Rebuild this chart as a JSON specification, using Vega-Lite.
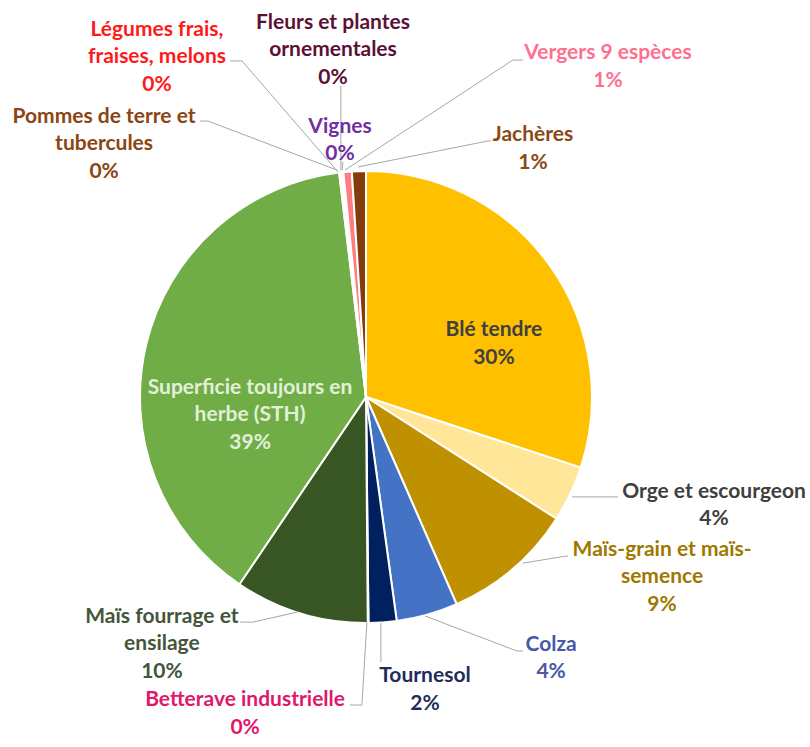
{
  "$schema": "https://vega.github.io/schema/vega-lite/v6.json",
  "width": 732,
  "height": 700,
  "autosize": "none",
  "padding": {"left": 0, "top": 47, "right": 78, "bottom": 0},
  "background": "white",
  "config": {
    "view": {"stroke": null},
    "axis": {"disable": true},
    "text": {"font": "Lato", "fontWeight": "bold", "fontSize": 21, "lineHeight": 27.5, "lineBreak": "\n", "align": "center", "baseline": "middle"},
    "rule": {"color": "#A6A6A6", "strokeWidth": 1}
  },
  "data": {
    "values": [
      {"name": "Blé tendre", "label": "Blé tendre", "value": 30.1},
      {"name": "Orge et escourgeon", "label": "Orge et escourgeon", "value": 4.0},
      {"name": "Maïs-grain et maïs-semence", "label": "Maïs-grain et maïs-\nsemence", "value": 9.4},
      {"name": "Colza", "label": "Colza", "value": 4.4},
      {"name": "Tournesol", "label": "Tournesol", "value": 2.0},
      {"name": "Betterave industrielle", "label": "Betterave industrielle", "value": 0.05},
      {"name": "Maïs fourrage et ensilage", "label": "Maïs fourrage et\nensilage", "value": 9.6},
      {"name": "Superficie toujours en herbe (STH)", "label": "Superficie toujours en\nherbe (STH)", "value": 38.7},
      {"name": "Pommes de terre et tubercules", "label": "Pommes de terre et\ntubercules", "value": 0.1},
      {"name": "Légumes frais, fraises, melons", "label": "Légumes frais,\nfraises, melons", "value": 0.1},
      {"name": "Fleurs et plantes ornementales", "label": "Fleurs et plantes\nornementales", "value": 0.05},
      {"name": "Vignes", "label": "Vignes", "value": 0.05},
      {"name": "Vergers 9 espèces", "label": "Vergers 9 espèces", "value": 0.6},
      {"name": "Jachères", "label": "Jachères", "value": 1.0}
    ]
  },
  "transform": [
    {"window": [{"op": "row_number", "as": "idx"}]},
    {"calculate": "datum.label + '\\n' + format(datum.value / 100, '.0%')", "as": "txt"}
  ],
  "layer": [
    {
      "mark": {"type": "arc", "radius": 226, "stroke": "white", "strokeWidth": 2},
      "encoding": {
        "theta": {"field": "value", "type": "quantitative", "stack": true},
        "order": {"field": "idx", "type": "quantitative"},
        "color": {
          "field": "name", "type": "nominal", "legend": null,
          "scale": {
            "domain": ["Blé tendre", "Orge et escourgeon", "Maïs-grain et maïs-semence", "Colza", "Tournesol", "Betterave industrielle", "Maïs fourrage et ensilage", "Superficie toujours en herbe (STH)", "Pommes de terre et tubercules", "Légumes frais, fraises, melons", "Fleurs et plantes ornementales", "Vignes", "Vergers 9 espèces", "Jachères"],
            "range": ["#FFC000", "#FFE699", "#BF9000", "#4472C4", "#002060", "#E6007E", "#375623", "#70AD47", "#843C0C", "#FF0000", "#5C1040", "#7030A0", "#FF7C80", "#843C0C"]
          }
        }
      }
    },
    {
      "transform": [{"filter": "datum.name === 'Blé tendre'"}],
      "mark": {"type": "text", "color": "#404040"},
      "encoding": {
        "x": {"datum": 0.566, "type": "quantitative", "axis": null, "scale": {"domain": [-1.6195, 1.6195], "nice": false, "zero": false}},
        "y": {"datum": 0.296, "type": "quantitative", "axis": null, "scale": {"domain": [-1.5487, 1.5487], "nice": false, "zero": false}},
        "text": {"field": "txt"}
      }
    },
    {
      "transform": [{"filter": "datum.name === 'Superficie toujours en herbe (STH)'"}],
      "mark": {"type": "text", "color": "#E2F0D9"},
      "encoding": {
        "x": {"datum": -0.513, "type": "quantitative", "axis": null, "scale": {"domain": [-1.6195, 1.6195], "nice": false, "zero": false}},
        "y": {"datum": 0.040, "type": "quantitative", "axis": null, "scale": {"domain": [-1.5487, 1.5487], "nice": false, "zero": false}},
        "text": {"field": "txt"}
      }
    },
    {
      "transform": [{"filter": "datum.name === 'Orge et escourgeon'"}],
      "layer": [
        {"mark": {"type": "rule"}, "encoding": {"x": {"datum": 0.912, "type": "quantitative", "axis": null}, "y": {"datum": -0.442, "type": "quantitative", "axis": null}, "x2": {"datum": 1.115}, "y2": {"datum": -0.442}}},
        {"mark": {"type": "text", "color": "#404040"}, "encoding": {"x": {"datum": 1.540, "type": "quantitative", "axis": null}, "y": {"datum": -0.420, "type": "quantitative", "axis": null}, "text": {"field": "txt"}}}
      ]
    },
    {
      "transform": [{"filter": "datum.name === 'Maïs-grain et maïs-semence'"}],
      "layer": [
        {"mark": {"type": "rule"}, "encoding": {"x": {"datum": 0.695, "type": "quantitative", "axis": null}, "y": {"datum": -0.735, "type": "quantitative", "axis": null}, "x2": {"datum": 0.885}, "y2": {"datum": -0.704}}},
        {"mark": {"type": "rule"}, "encoding": {"x": {"datum": 0.885, "type": "quantitative", "axis": null}, "y": {"datum": -0.704, "type": "quantitative", "axis": null}, "x2": {"datum": 0.894}, "y2": {"datum": -0.704}}},
        {"mark": {"type": "text", "color": "#A07800"}, "encoding": {"x": {"datum": 1.310, "type": "quantitative", "axis": null}, "y": {"datum": -0.677, "type": "quantitative", "axis": null}, "text": {"field": "txt"}}}
      ]
    },
    {
      "transform": [{"filter": "datum.name === 'Colza'"}],
      "layer": [
        {"mark": {"type": "rule"}, "encoding": {"x": {"datum": 0.261, "type": "quantitative", "axis": null}, "y": {"datum": -0.969, "type": "quantitative", "axis": null}, "x2": {"datum": 0.668}, "y2": {"datum": -1.124}}},
        {"mark": {"type": "rule"}, "encoding": {"x": {"datum": 0.668, "type": "quantitative", "axis": null}, "y": {"datum": -1.124, "type": "quantitative", "axis": null}, "x2": {"datum": 0.695}, "y2": {"datum": -1.124}}},
        {"mark": {"type": "text", "color": "#4659A6"}, "encoding": {"x": {"datum": 0.819, "type": "quantitative", "axis": null}, "y": {"datum": -1.097, "type": "quantitative", "axis": null}, "text": {"field": "txt"}}}
      ]
    },
    {
      "transform": [{"filter": "datum.name === 'Tournesol'"}],
      "layer": [
        {"mark": {"type": "rule"}, "encoding": {"x": {"datum": 0.066, "type": "quantitative", "axis": null}, "y": {"datum": -1.0, "type": "quantitative", "axis": null}, "x2": {"datum": 0.066}, "y2": {"datum": -1.173}}},
        {"mark": {"type": "text", "color": "#1F2D5C"}, "encoding": {"x": {"datum": 0.261, "type": "quantitative", "axis": null}, "y": {"datum": -1.235, "type": "quantitative", "axis": null}, "text": {"field": "txt"}}}
      ]
    },
    {
      "transform": [{"filter": "datum.name === 'Betterave industrielle'"}],
      "layer": [
        {"mark": {"type": "rule"}, "encoding": {"x": {"datum": 0.004, "type": "quantitative", "axis": null}, "y": {"datum": -0.996, "type": "quantitative", "axis": null}, "x2": {"datum": -0.018}, "y2": {"datum": -1.363}}},
        {"mark": {"type": "rule"}, "encoding": {"x": {"datum": -0.018, "type": "quantitative", "axis": null}, "y": {"datum": -1.363, "type": "quantitative", "axis": null}, "x2": {"datum": -0.071}, "y2": {"datum": -1.363}}},
        {"mark": {"type": "text", "color": "#E0186C"}, "encoding": {"x": {"datum": -0.535, "type": "quantitative", "axis": null}, "y": {"datum": -1.341, "type": "quantitative", "axis": null}, "text": {"field": "txt"}}}
      ]
    },
    {
      "transform": [{"filter": "datum.name === 'Maïs fourrage et ensilage'"}],
      "layer": [
        {"mark": {"type": "rule"}, "encoding": {"x": {"datum": -0.558, "type": "quantitative", "axis": null}, "y": {"datum": -0.996, "type": "quantitative", "axis": null}, "x2": {"datum": -0.500}, "y2": {"datum": -0.996}}},
        {"mark": {"type": "rule"}, "encoding": {"x": {"datum": -0.500, "type": "quantitative", "axis": null}, "y": {"datum": -0.996, "type": "quantitative", "axis": null}, "x2": {"datum": -0.301}, "y2": {"datum": -0.951}}},
        {"mark": {"type": "text", "color": "#44553A"}, "encoding": {"x": {"datum": -0.903, "type": "quantitative", "axis": null}, "y": {"datum": -0.973, "type": "quantitative", "axis": null}, "text": {"field": "txt"}}}
      ]
    },
    {
      "transform": [{"filter": "datum.name === 'Pommes de terre et tubercules'"}],
      "layer": [
        {"mark": {"type": "rule"}, "encoding": {"x": {"datum": -0.735, "type": "quantitative", "axis": null}, "y": {"datum": 1.221, "type": "quantitative", "axis": null}, "x2": {"datum": -0.699}, "y2": {"datum": 1.221}}},
        {"mark": {"type": "rule"}, "encoding": {"x": {"datum": -0.699, "type": "quantitative", "axis": null}, "y": {"datum": 1.221, "type": "quantitative", "axis": null}, "x2": {"datum": -0.128}, "y2": {"datum": 1.004}}},
        {"mark": {"type": "text", "color": "#8B4513"}, "encoding": {"x": {"datum": -1.159, "type": "quantitative", "axis": null}, "y": {"datum": 1.239, "type": "quantitative", "axis": null}, "text": {"field": "txt"}}}
      ]
    },
    {
      "transform": [{"filter": "datum.name === 'Légumes frais, fraises, melons'"}],
      "layer": [
        {"mark": {"type": "rule"}, "encoding": {"x": {"datum": -0.602, "type": "quantitative", "axis": null}, "y": {"datum": 1.487, "type": "quantitative", "axis": null}, "x2": {"datum": -0.549}, "y2": {"datum": 1.487}}},
        {"mark": {"type": "rule"}, "encoding": {"x": {"datum": -0.549, "type": "quantitative", "axis": null}, "y": {"datum": 1.487, "type": "quantitative", "axis": null}, "x2": {"datum": -0.124}, "y2": {"datum": 0.996}}},
        {"mark": {"type": "text", "color": "#FF1A1A"}, "encoding": {"x": {"datum": -0.925, "type": "quantitative", "axis": null}, "y": {"datum": 1.624, "type": "quantitative", "axis": null}, "text": {"field": "txt"}}}
      ]
    },
    {
      "transform": [{"filter": "datum.name === 'Fleurs et plantes ornementales'"}],
      "layer": [
        {"mark": {"type": "rule"}, "encoding": {"x": {"datum": -0.111, "type": "quantitative", "axis": null}, "y": {"datum": 1.376, "type": "quantitative", "axis": null}, "x2": {"datum": -0.111}, "y2": {"datum": 1.004}}},
        {"mark": {"type": "text", "color": "#5C1037"}, "encoding": {"x": {"datum": -0.146, "type": "quantitative", "axis": null}, "y": {"datum": 1.655, "type": "quantitative", "axis": null}, "text": {"field": "txt"}}}
      ]
    },
    {
      "transform": [{"filter": "datum.name === 'Vignes'"}],
      "layer": [
        {"mark": {"type": "rule"}, "encoding": {"x": {"datum": -0.102, "type": "quantitative", "axis": null}, "y": {"datum": 1.040, "type": "quantitative", "axis": null}, "x2": {"datum": -0.106}, "y2": {"datum": 1.004}}},
        {"mark": {"type": "text", "color": "#7030A0"}, "encoding": {"x": {"datum": -0.115, "type": "quantitative", "axis": null}, "y": {"datum": 1.195, "type": "quantitative", "axis": null}, "text": {"field": "txt"}}}
      ]
    },
    {
      "transform": [{"filter": "datum.name === 'Vergers 9 espèces'"}],
      "layer": [
        {"mark": {"type": "rule"}, "encoding": {"x": {"datum": -0.093, "type": "quantitative", "axis": null}, "y": {"datum": 1.004, "type": "quantitative", "axis": null}, "x2": {"datum": 0.650}, "y2": {"datum": 1.491}}},
        {"mark": {"type": "rule"}, "encoding": {"x": {"datum": 0.650, "type": "quantitative", "axis": null}, "y": {"datum": 1.491, "type": "quantitative", "axis": null}, "x2": {"datum": 0.695}, "y2": {"datum": 1.491}}},
        {"mark": {"type": "text", "color": "#FF6F91"}, "encoding": {"x": {"datum": 1.071, "type": "quantitative", "axis": null}, "y": {"datum": 1.522, "type": "quantitative", "axis": null}, "text": {"field": "txt"}}}
      ]
    },
    {
      "transform": [{"filter": "datum.name === 'Jachères'"}],
      "layer": [
        {"mark": {"type": "rule"}, "encoding": {"x": {"datum": -0.035, "type": "quantitative", "axis": null}, "y": {"datum": 1.018, "type": "quantitative", "axis": null}, "x2": {"datum": 0.540}, "y2": {"datum": 1.133}}},
        {"mark": {"type": "rule"}, "encoding": {"x": {"datum": 0.540, "type": "quantitative", "axis": null}, "y": {"datum": 1.133, "type": "quantitative", "axis": null}, "x2": {"datum": 0.553}, "y2": {"datum": 1.133}}},
        {"mark": {"type": "text", "color": "#8B4A14"}, "encoding": {"x": {"datum": 0.739, "type": "quantitative", "axis": null}, "y": {"datum": 1.159, "type": "quantitative", "axis": null}, "text": {"field": "txt"}}}
      ]
    }
  ]
}
